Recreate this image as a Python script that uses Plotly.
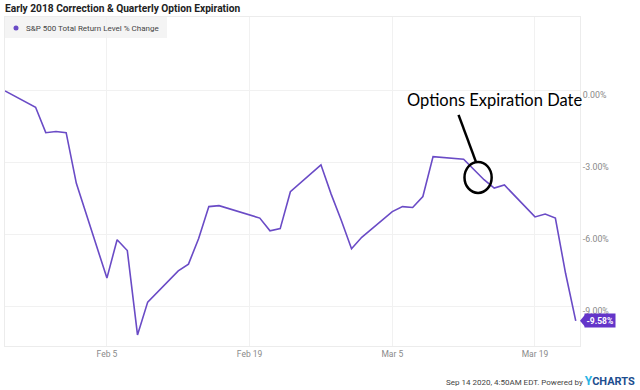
import plotly.graph_objects as go

dates = ["2018-01-26", "2018-01-29", "2018-01-30", "2018-01-31", "2018-02-01", "2018-02-02",
         "2018-02-05", "2018-02-06", "2018-02-07", "2018-02-08", "2018-02-09", "2018-02-12",
         "2018-02-13", "2018-02-14", "2018-02-15", "2018-02-16", "2018-02-20", "2018-02-21",
         "2018-02-22", "2018-02-23", "2018-02-26", "2018-02-27", "2018-02-28", "2018-03-01",
         "2018-03-02", "2018-03-05", "2018-03-06", "2018-03-07", "2018-03-08", "2018-03-09",
         "2018-03-12", "2018-03-13", "2018-03-14", "2018-03-15", "2018-03-16", "2018-03-19",
         "2018-03-20", "2018-03-21", "2018-03-22", "2018-03-23"]
values = [0.0, -0.68, -1.74, -1.69, -1.74, -3.85, -7.8, -6.2, -6.65, -10.17, -8.8, -7.5,
          -7.22, -6.15, -4.82, -4.78, -5.3, -5.83, -5.74, -4.2, -3.08, -4.3, -5.4, -6.58,
          -6.1, -5.03, -4.82, -4.86, -4.4, -2.74, -2.85, -3.29, -3.7, -4.05, -3.92, -5.25,
          -5.13, -5.3, -7.6, -9.58]

series_name = "S&P 500 Total Return Level % Change"
y_tickvals = [0, -3, -6, -9]
y_ticktext = ["0.00%", "-3.00%", "-6.00%", "-9.00%"]
x_tickvals = ["2018-02-05", "2018-02-19", "2018-03-05", "2018-03-19"]
x_ticktext = ["Feb 5", "Feb 19", "Mar 5", "Mar 19"]

PURPLE = "#6a4bc6"
LABEL_PURPLE = "#6435c9"
FONT = "Roboto"

fig = go.Figure()
fig.add_trace(go.Scatter(x=dates, y=values, mode="lines", name=series_name,
                         line=dict(color=PURPLE, width=1.6),
                         showlegend=False, hoverinfo="skip"))

last_val = values[-1]

fig.update_layout(
    width=640, height=390,
    margin=dict(l=5, r=60, t=17, b=44),
    paper_bgcolor="white", plot_bgcolor="white",
    showlegend=False,
    title=dict(text="<b>Early 2018 Correction &amp; Quarterly Option Expiration</b>",
               x=5 / 640, xanchor="left", xref="container",
               y=1 - 8 / 390, yanchor="middle", yref="container",
               font=dict(family=FONT, size=10.2, color="#222222")),
    xaxis=dict(range=["2018-01-26", "2018-03-23 10:00"], tickmode="array",
               tickvals=x_tickvals, ticktext=x_ticktext,
               showgrid=True, gridcolor="#f1f1f1", gridwidth=1,
               showline=True, linecolor="#ececec", mirror=True, zeroline=False,
               ticks="", tickfont=dict(family=FONT, size=8.5, color="#8a8a8a")),
    yaxis=dict(range=[-10.63, 3.08], side="right", tickmode="array",
               tickvals=y_tickvals, ticktext=y_ticktext,
               showgrid=True, gridcolor="#f1f1f1", gridwidth=1,
               showline=True, linecolor="#ececec", mirror=True, zeroline=False,
               ticks="", ticklabelshift=4,
               tickfont=dict(family=FONT, size=8.8, color="#8a8a8a")),
)

# legend box (drawn manually to match the compact YCharts legend)
fig.add_shape(type="rect", xref="paper", yref="paper", x0=0, x1=162 / 575, y0=308 / 329, y1=1,
              fillcolor="#f4f4f4", line=dict(width=0), layer="below")
fig.add_shape(type="circle", xref="paper", yref="paper", xsizemode="pixel", ysizemode="pixel",
              xanchor=11 / 575, yanchor=318 / 329, x0=-2.5, x1=2.5, y0=-2.5, y1=2.5,
              fillcolor=PURPLE, line=dict(width=0))
fig.add_annotation(xref="paper", yref="paper", x=19 / 575, y=318 / 329, xanchor="left",
                   yanchor="middle", text=series_name, showarrow=False,
                   font=dict(family=FONT, size=8, color="#444444"))

# end-value label
fig.add_annotation(xref="paper", yref="y", x=1, y=last_val, xanchor="left", yanchor="middle",
                   xshift=4, text="<b>%.2f%%</b>" % last_val, showarrow=False,
                   font=dict(family=FONT, size=8.5, color="white"),
                   bgcolor=LABEL_PURPLE, borderpad=1.5)
fig.add_shape(type="path", xref="paper", yref="y", xsizemode="pixel", ysizemode="pixel",
              xanchor=1, yanchor=last_val, path="M 0 0 L 5 6 L 5 -6 Z",
              fillcolor=LABEL_PURPLE, line=dict(width=0))

# callout annotation
fig.add_annotation(x="2018-03-15 00:00", y=-0.36, xref="x", yref="y",
                   text="Options Expiration Date", showarrow=False,
                   font=dict(family="Lato", size=16.5, color="black"),
                   xanchor="center", yanchor="middle")
fig.add_shape(type="line", xref="x", yref="y",
              x0="2018-03-11 12:00", y0=-1.0, x1="2018-03-13 05:00", y1=-2.96,
              line=dict(color="black", width=2.5))
fig.add_shape(type="circle", xref="x", yref="y",
              x0="2018-03-12 02:00", y0=-2.96, x1="2018-03-14 18:00", y1=-4.25,
              line=dict(color="black", width=2.5))

# footer
fig.add_annotation(xref="paper", yref="paper", x=1, y=0, xanchor="right", yanchor="middle",
                   xshift=57, yshift=-35,
                   text="Sep 14 2020, 4:50AM EDT. Powered by "
                        "<span style='color:#2ab4e6;font-size:12px'><b>Y</b></span>"
                        "<span style='color:#1d4e8f;font-size:11px'><b>CHARTS</b></span>",
                   showarrow=False, font=dict(family=FONT, size=8, color="#444444"))

fig.write_html("out.html", config={"displayModeBar": False},
               post_script="document.body.style.margin='0';document.body.style.overflow='hidden';")
